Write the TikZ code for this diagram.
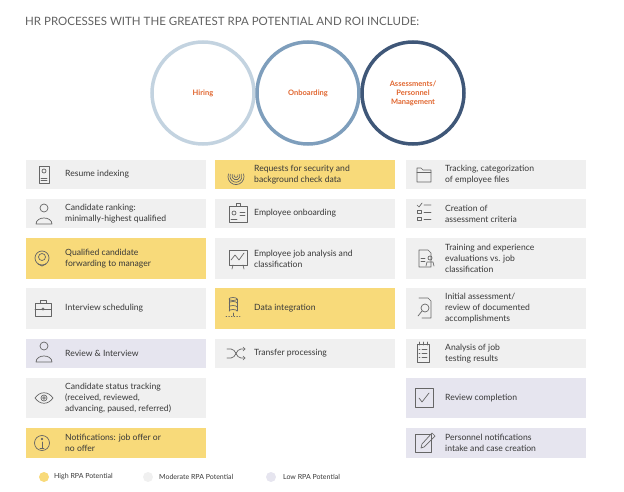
\documentclass[tikz,border=0pt]{standalone}
\usepackage{fontspec}
\setmainfont{Lato}
\begin{document}
\begin{tikzpicture}[x=1pt,y=-1pt,
  box/.style={inner sep=0pt, minimum width=180pt, anchor=north west, draw=none},
  txt/.style={anchor=west, align=left, font=\fontsize{8.6}{11}\selectfont, text=black!78, inner sep=0pt},
  ic/.style={draw=black!60, line width=0.7pt, line cap=round, line join=round},
  ring/.style={line width=3.5pt},
  lab/.style={font=\bfseries\fontsize{7.5}{9}\selectfont, text=orange2, align=center}]
\definecolor{hi}{HTML}{F8DA7A}
\definecolor{mo}{HTML}{F0F0F0}
\definecolor{lo}{HTML}{E6E5EF}
\definecolor{orange2}{HTML}{E0652E}
\definecolor{c1}{HTML}{C3D3E0}
\definecolor{c2}{HTML}{7E9EBC}
\definecolor{c3}{HTML}{3F5778}
\useasboundingbox (0,0) rectangle (624,492);
\node[anchor=west, inner sep=0pt, font=\fontsize{11.5}{13}\selectfont, text=black!62] (title) at (25,21) {HR PROCESSES WITH THE GREATEST RPA POTENTIAL AND ROI INCLUDE:};
% circles
\draw[ring, c1] (203,93) circle (51);
\draw[ring, c2] (308,93) circle (51);
\draw[ring, c3] (413,93) circle (51);
\node[lab] (h) at (203,93) {Hiring};
\node[lab] (o) at (308,93) {Onboarding};
\node[lab] (a) at (413,93) {Assessments/\\Personnel\\Management};
% boxes: macro
\newcommand{\bx}[6]{% name, x, y1, y2, color, text
  \fill[#5] (#2,#3) rectangle ++(180,#4-#3);
  \node[txt] (#1) at (#2+39,{(#3+#4)/2}) {#6};}
\bx{r1a}{26}{160}{189}{mo}{Resume indexing}
\bx{r1b}{215}{160}{189}{hi}{Requests for security and\\background check data}
\bx{r1c}{406}{160}{189}{mo}{Tracking, categorization\\of employee files}
\bx{r2a}{26}{199}{228}{mo}{Candidate ranking:\\minimally-highest qualified}
\bx{r2b}{215}{199}{228}{mo}{Employee onboarding}
\bx{r2c}{406}{199}{228}{mo}{Creation of\\assessment criteria}
\bx{r3a}{26}{238}{279}{hi}{Qualified candidate\\forwarding to manager}
\bx{r3b}{215}{238}{279}{mo}{Employee job analysis and\\classification}
\bx{r3c}{406}{238}{279}{mo}{Training and experience\\evaluations vs. job\\classification}
\bx{r4a}{26}{288}{329}{mo}{Interview scheduling}
\bx{r4b}{215}{288}{329}{hi}{Data integration}
\bx{r4c}{406}{288}{329}{mo}{Initial assessment/\\review of documented\\accomplishments}
\bx{r5a}{26}{339}{368}{lo}{Review \& Interview}
\bx{r5b}{215}{339}{368}{mo}{Transfer processing}
\bx{r5c}{406}{339}{368}{mo}{Analysis of job\\testing results}
\bx{r6a}{26}{378}{418}{mo}{Candidate status tracking\\(received, reviewed,\\advancing, paused, referred)}
\bx{r6c}{406}{378}{418}{lo}{Review completion}
\bx{r7a}{26}{428}{458}{hi}{Notifications: job offer or\\no offer}
\bx{r7c}{406}{428}{458}{lo}{Personnel notifications\\intake and case creation}
% icons
% r1a document
\draw[ic] (39,166) rectangle (49,183); \draw[ic] (44,171) circle (2); \draw[ic] (41,178)--(47,178) (41,180)--(47,180);
% r1b fingerprint
\foreach \r in {2,4,6,8} \draw[ic] (236,{175+\r*0.2}) ++(200:\r) arc (200:-20:\r);
% r1c folder
\draw[ic] (417,168)--(421,168)--(423,170)--(431,170)--(431,182)--(417,182)--cycle; \draw[ic] (417,172)--(431,172);
% r2a person
\draw[ic] (44,208) circle (4); \draw[ic] (36,224) .. controls (36,216) and (52,216) .. (52,224) -- cycle;
% r2b id card
\draw[ic] (229,206) rectangle (247,222); \draw[ic] (234,213) circle (2); \draw[ic] (231,219)--(237,219) (240,212)--(245,212) (240,215)--(245,215); \draw[ic] (236,206)--(236,203)--(240,203)--(240,206);
% r2c checklist
\draw[ic] (417,205)--(419,207)--(422,203) (424,205)--(431,205);
\draw[ic] (417,210) rectangle (421,213) (424,212)--(431,212);
\draw[ic] (417,217) rectangle (421,220) (424,219)--(431,219);
% r3a headset
\draw[ic] (42,258) circle (7); \draw[ic] (42,257) circle (3.5); \draw[ic] (38,264)--(42,266)--(46,264);
% r3b chart board
\draw[ic] (229,250) rectangle (247,265); \draw[ic] (231,260)--(235,255)--(239,260)--(244,253); \draw[ic] (233,265)--(232,269) (243,265)--(244,269);
% r3c document person
\draw[ic] (419,250)--(428,250)--(431,253)--(431,267)--(419,267)--cycle; \draw[ic] (421,258)--(425,258) (421,261)--(425,261);
\draw[ic] (430,258) circle (2); \draw[ic] (426,266)--(427,262)--(433,262)--(434,266);
% r4a briefcase
\draw[ic] (35,303) rectangle (51,316); \draw[ic] (40,303)--(40,300)--(46,300)--(46,303); \draw[ic] (35,309)--(51,309); \draw[ic] (43,309) circle (1.2);
% r4b database
\draw[ic] (233,299) ellipse (4 and 1.5); \draw[ic] (229,299)--(229,311) (237,299)--(237,311);
\draw[ic] (229,303) arc (180:360:4 and 1.5) (229,307) arc (180:360:4 and 1.5) (229,311) arc (180:360:4 and 1.5);
\draw[ic, dotted] (226,316)--(240,316); \draw[ic] (233,313)--(233,316);
% r4c magnifier doc
\draw[ic] (419,298)--(428,298)--(431,301)--(431,318)--(422,318); \draw[ic] (425,308) circle (4); \draw[ic] (422,311)--(418,316);
% r5a person
\draw[ic] (44,346) circle (4); \draw[ic] (36,362) .. controls (36,354) and (52,354) .. (52,362) -- cycle;
% r5b shuffle
\draw[ic] (227,349)--(231,349) .. controls (236,349) and (236,358) .. (241,358)--(245,358); \draw[ic] (227,358)--(231,358) .. controls (236,358) and (236,349) .. (241,349)--(245,349);
\draw[ic] (243,347)--(245,349)--(243,351) (243,356)--(245,358)--(243,360);
% r5c clipboard
\draw[ic] (417,344) rectangle (429,362); \draw[ic] (419,342)--(419,345) (423,342)--(423,345) (427,342)--(427,345);
\draw[ic] (419,349)--(420,349) (422,349)--(427,349) (419,353)--(420,353) (422,353)--(427,353) (419,357)--(420,357) (422,357)--(427,357);
% r6a eye
\draw[ic] (35,398) .. controls (40,391) and (48,391) .. (53,398) .. controls (48,405) and (40,405) .. (35,398) -- cycle; \draw[ic] (44,398) circle (3); \draw[ic] (44,398) circle (1.3);
% r6c checkbox
\draw[ic] (415,388) rectangle (433,407); \draw[ic] (419,398)--(422,402)--(429,393);
% r7a info
\draw[ic] (42,443) circle (7.5); \draw[ic] (42,439) circle (0.8); \draw[ic] (42,442)--(42,448) (40,448)--(44,448);
% r7c pencil
\draw[ic] (415,434) rectangle (431,452); \draw[ic] (421,448)--(422,444)--(432,433)--(435,436)--(424,447)--cycle;
% legend
\fill[hi] (44,477) circle (5); \node[txt, font=\fontsize{7}{8}\selectfont] (l1) at (54,477) {High RPA Potential};
\fill[mo] (148,477) circle (5); \node[txt, font=\fontsize{7}{8}\selectfont] (l2) at (159,477) {Moderate RPA Potential};
\fill[lo] (271,477) circle (5); \node[txt, font=\fontsize{7}{8}\selectfont] (l3) at (283,477) {Low RPA Potential};
\end{tikzpicture}
\end{document}
